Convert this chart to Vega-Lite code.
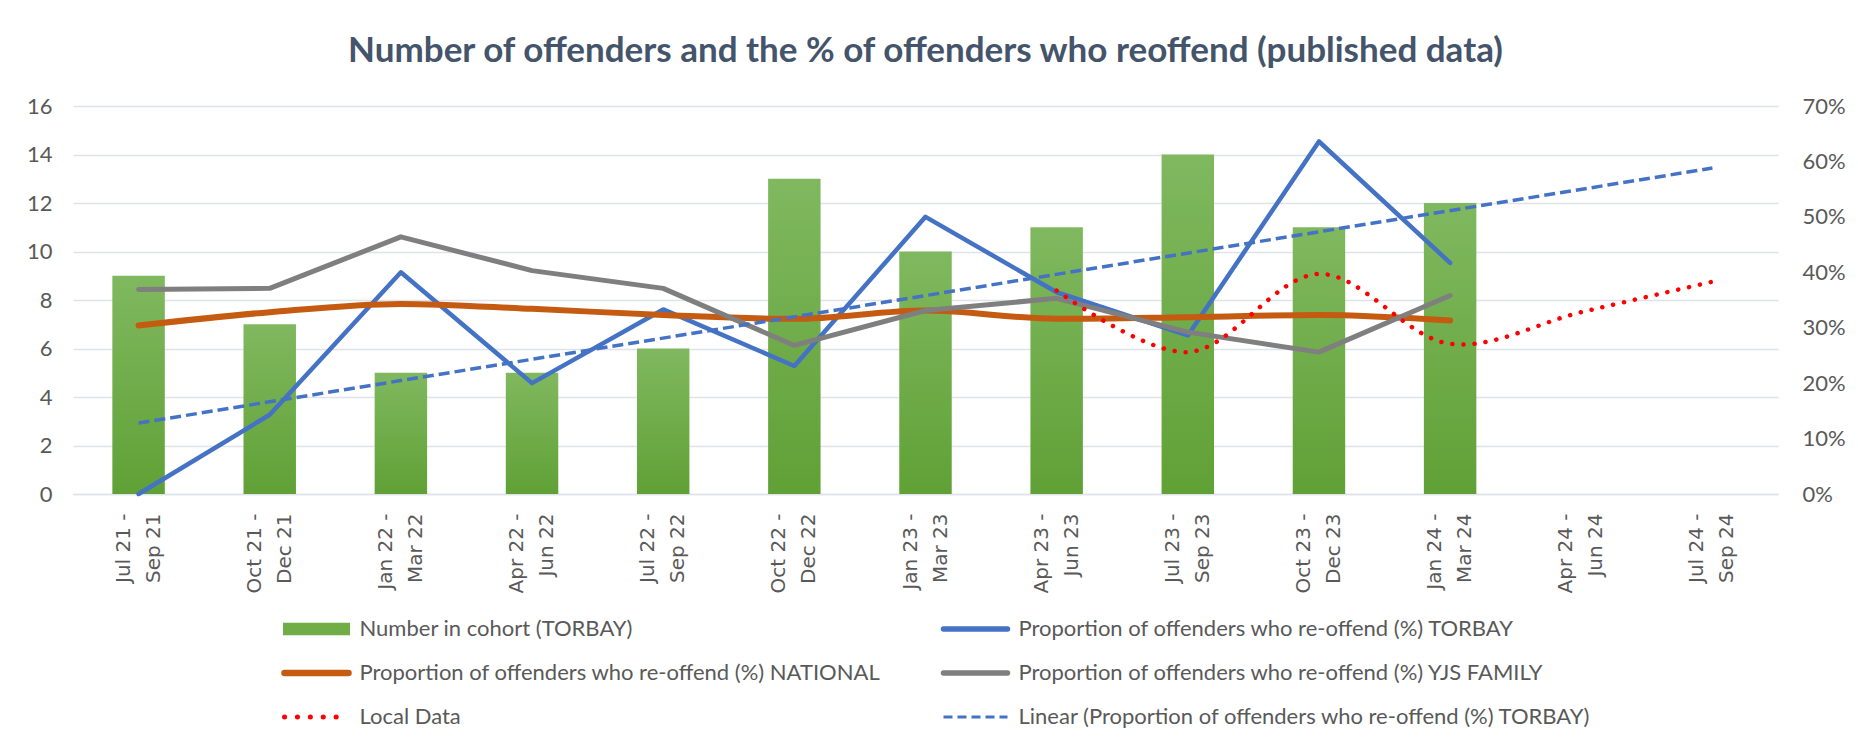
{
  "$schema": "https://vega.github.io/schema/vega-lite/v6.json",
  "width": 1705,
  "height": 388,
  "autosize": {"type": "none"},
  "padding": {"left": 73, "top": 106, "right": 80, "bottom": 254},
  "background": "white",
  "title": {
    "text": "Number of offenders and the % of offenders who reoffend (published data)",
    "font": "Lato",
    "fontSize": 35,
    "fontWeight": "bold",
    "color": "#44546A",
    "anchor": "middle",
    "offset": 26
  },
  "config": {
    "view": {"stroke": null},
    "axis": {"labelFont": "Lato", "labelColor": "#595959", "ticks": false, "domain": false, "title": null}
  },
  "datasets": {
    "cohort": [
      {"period": "Jul 21 - Sep 21", "count": 9},
      {"period": "Oct 21 - Dec 21", "count": 7},
      {"period": "Jan 22 - Mar 22", "count": 5},
      {"period": "Apr 22 - Jun 22", "count": 5},
      {"period": "Jul 22 - Sep 22", "count": 6},
      {"period": "Oct 22 - Dec 22", "count": 13},
      {"period": "Jan 23 - Mar 23", "count": 10},
      {"period": "Apr 23 - Jun 23", "count": 11},
      {"period": "Jul 23 - Sep 23", "count": 14},
      {"period": "Oct 23 - Dec 23", "count": 11},
      {"period": "Jan 24 - Mar 24", "count": 12}
    ],
    "torbay": [
      {"period": "Jul 21 - Sep 21", "series": "Proportion of offenders who re-offend (%) TORBAY", "value": 0.0},
      {"period": "Oct 21 - Dec 21", "series": "Proportion of offenders who re-offend (%) TORBAY", "value": 0.143},
      {"period": "Jan 22 - Mar 22", "series": "Proportion of offenders who re-offend (%) TORBAY", "value": 0.4},
      {"period": "Apr 22 - Jun 22", "series": "Proportion of offenders who re-offend (%) TORBAY", "value": 0.2},
      {"period": "Jul 22 - Sep 22", "series": "Proportion of offenders who re-offend (%) TORBAY", "value": 0.333},
      {"period": "Oct 22 - Dec 22", "series": "Proportion of offenders who re-offend (%) TORBAY", "value": 0.231},
      {"period": "Jan 23 - Mar 23", "series": "Proportion of offenders who re-offend (%) TORBAY", "value": 0.5},
      {"period": "Apr 23 - Jun 23", "series": "Proportion of offenders who re-offend (%) TORBAY", "value": 0.364},
      {"period": "Jul 23 - Sep 23", "series": "Proportion of offenders who re-offend (%) TORBAY", "value": 0.286},
      {"period": "Oct 23 - Dec 23", "series": "Proportion of offenders who re-offend (%) TORBAY", "value": 0.636},
      {"period": "Jan 24 - Mar 24", "series": "Proportion of offenders who re-offend (%) TORBAY", "value": 0.417}
    ],
    "national": [
      {"period": "Jul 21 - Sep 21", "series": "Proportion of offenders who re-offend (%) NATIONAL", "value": 0.304},
      {"period": "Oct 21 - Dec 21", "series": "Proportion of offenders who re-offend (%) NATIONAL", "value": 0.328},
      {"period": "Jan 22 - Mar 22", "series": "Proportion of offenders who re-offend (%) NATIONAL", "value": 0.343},
      {"period": "Apr 22 - Jun 22", "series": "Proportion of offenders who re-offend (%) NATIONAL", "value": 0.334},
      {"period": "Jul 22 - Sep 22", "series": "Proportion of offenders who re-offend (%) NATIONAL", "value": 0.323},
      {"period": "Oct 22 - Dec 22", "series": "Proportion of offenders who re-offend (%) NATIONAL", "value": 0.316},
      {"period": "Jan 23 - Mar 23", "series": "Proportion of offenders who re-offend (%) NATIONAL", "value": 0.331},
      {"period": "Apr 23 - Jun 23", "series": "Proportion of offenders who re-offend (%) NATIONAL", "value": 0.316},
      {"period": "Jul 23 - Sep 23", "series": "Proportion of offenders who re-offend (%) NATIONAL", "value": 0.319},
      {"period": "Oct 23 - Dec 23", "series": "Proportion of offenders who re-offend (%) NATIONAL", "value": 0.323},
      {"period": "Jan 24 - Mar 24", "series": "Proportion of offenders who re-offend (%) NATIONAL", "value": 0.313}
    ],
    "yjs": [
      {"period": "Jul 21 - Sep 21", "series": "Proportion of offenders who re-offend (%) YJS FAMILY", "value": 0.369},
      {"period": "Oct 21 - Dec 21", "series": "Proportion of offenders who re-offend (%) YJS FAMILY", "value": 0.371},
      {"period": "Jan 22 - Mar 22", "series": "Proportion of offenders who re-offend (%) YJS FAMILY", "value": 0.464},
      {"period": "Apr 22 - Jun 22", "series": "Proportion of offenders who re-offend (%) YJS FAMILY", "value": 0.403},
      {"period": "Jul 22 - Sep 22", "series": "Proportion of offenders who re-offend (%) YJS FAMILY", "value": 0.371},
      {"period": "Oct 22 - Dec 22", "series": "Proportion of offenders who re-offend (%) YJS FAMILY", "value": 0.268},
      {"period": "Jan 23 - Mar 23", "series": "Proportion of offenders who re-offend (%) YJS FAMILY", "value": 0.331},
      {"period": "Apr 23 - Jun 23", "series": "Proportion of offenders who re-offend (%) YJS FAMILY", "value": 0.353},
      {"period": "Jul 23 - Sep 23", "series": "Proportion of offenders who re-offend (%) YJS FAMILY", "value": 0.292},
      {"period": "Oct 23 - Dec 23", "series": "Proportion of offenders who re-offend (%) YJS FAMILY", "value": 0.256},
      {"period": "Jan 24 - Mar 24", "series": "Proportion of offenders who re-offend (%) YJS FAMILY", "value": 0.358}
    ],
    "local": [
      {"period": "Apr 23 - Jun 23", "series": "Local Data", "value": 0.367},
      {"period": "Jul 23 - Sep 23", "series": "Local Data", "value": 0.256},
      {"period": "Oct 23 - Dec 23", "series": "Local Data", "value": 0.397},
      {"period": "Jan 24 - Mar 24", "series": "Local Data", "value": 0.271},
      {"period": "Apr 24 - Jun 24", "series": "Local Data", "value": 0.328},
      {"period": "Jul 24 - Sep 24", "series": "Local Data", "value": 0.383}
    ],
    "trend": [
      {"period": "Jul 21 - Sep 21", "series": "Linear (Proportion of offenders who re-offend (%) TORBAY)", "value": 0.128},
      {"period": "Jul 24 - Sep 24", "series": "Linear (Proportion of offenders who re-offend (%) TORBAY)", "value": 0.588}
    ]
  },
  "encoding": {
    "x": {
      "field": "period",
      "type": "nominal",
      "sort": null,
      "scale": {
        "type": "band",
        "paddingInner": 0,
        "paddingOuter": 0,
        "domain": ["Jul 21 - Sep 21", "Oct 21 - Dec 21", "Jan 22 - Mar 22", "Apr 22 - Jun 22", "Jul 22 - Sep 22", "Oct 22 - Dec 22", "Jan 23 - Mar 23", "Apr 23 - Jun 23", "Jul 23 - Sep 23", "Oct 23 - Dec 23", "Jan 24 - Mar 24", "Apr 24 - Jun 24", "Jul 24 - Sep 24"]
      },
      "axis": {
        "labelAngle": -90,
        "labelFont": "DejaVu Sans",
        "labelFontSize": 20,
        "labelLineHeight": 30,
        "labelPadding": 19,
        "labelOffset": -15,
        "labelExpr": "[split(datum.value, ' - ')[0] + ' -', split(datum.value, ' - ')[1]]",
        "domain": true,
        "domainColor": "#DFE3E9",
        "domainWidth": 1.5,
        "grid": false
      }
    }
  },
  "layer": [
    {
      "data": {"name": "cohort"},
      "mark": {
        "type": "bar",
        "width": {"band": 0.4},
        "color": {"gradient": "linear", "x1": 0, "y1": 0, "x2": 0, "y2": 1, "stops": [{"offset": 0, "color": "#80B85F"}, {"offset": 1, "color": "#60A136"}]}
      },
      "encoding": {
        "y": {
          "field": "count",
          "type": "quantitative",
          "scale": {"domain": [0, 16], "nice": false, "zero": true},
          "axis": {
            "orient": "left",
            "values": [0, 2, 4, 6, 8, 10, 12, 14, 16],
            "labelFontSize": 22,
            "labelPadding": 21,
            "grid": true,
            "gridColor": "#DFE3E9",
            "gridWidth": 1.5
          }
        }
      }
    },
    {
      "encoding": {
        "y": {
          "field": "value",
          "type": "quantitative",
          "scale": {"domain": [0, 0.7], "nice": false, "zero": true},
          "axis": {
            "orient": "right",
            "values": [0, 0.1, 0.2, 0.3, 0.4, 0.5, 0.6, 0.7],
            "format": ".0%",
            "labelFontSize": 22,
            "labelPadding": 24,
            "grid": false
          }
        },
        "color": {
          "field": "series",
          "type": "nominal",
          "scale": {
            "domain": ["Number in cohort (TORBAY)", "Proportion of offenders who re-offend (%) TORBAY", "Proportion of offenders who re-offend (%) NATIONAL", "Proportion of offenders who re-offend (%) YJS FAMILY", "Local Data", "Linear (Proportion of offenders who re-offend (%) TORBAY)"],
            "range": ["#70AD47", "#4472C4", "#C55A11", "#7F7F7F", "#FF0000", "#4472C4"]
          },
          "legend": {
            "title": null,
            "orient": "none",
            "legendX": 209,
            "legendY": 512,
            "direction": "horizontal",
            "columns": 2,
            "columnPadding": 51,
            "rowPadding": 20,
            "padding": 0,
            "labelFont": "Lato",
            "labelFontSize": 22,
            "labelColor": "#595959",
            "labelLimit": 0,
            "labelOffset": 32,
            "symbolOffset": 23.5,
            "symbolSize": 400,
            "symbolStrokeWidth": 0,
            "encode": {
              "symbols": {
                "update": {
                  "shape": {"signal": "datum.value == 'Number in cohort (TORBAY)' ? 'M-3.35,-0.63H3.35V0.63H-3.35Z' : 'M-3.2,0H3.2'"},
                  "fill": {"signal": "datum.value == 'Number in cohort (TORBAY)' ? '#70AD47' : 'transparent'"},
                  "stroke": {"signal": "datum.value == 'Local Data' ? '#FF0000' : datum.value == 'Linear (Proportion of offenders who re-offend (%) TORBAY)' ? '#4472C4' : datum.value == 'Proportion of offenders who re-offend (%) NATIONAL' ? '#C55A11' : datum.value == 'Proportion of offenders who re-offend (%) YJS FAMILY' ? '#7F7F7F' : datum.value == 'Number in cohort (TORBAY)' ? 'transparent' : '#4472C4'"},
                  "strokeWidth": {"signal": "datum.value == 'Local Data' ? 5 : datum.value == 'Linear (Proportion of offenders who re-offend (%) TORBAY)' ? 3 : datum.value == 'Proportion of offenders who re-offend (%) NATIONAL' ? 6.5 : datum.value == 'Number in cohort (TORBAY)' ? 0 : 5.5"},
                  "strokeDash": {"signal": "datum.value == 'Local Data' ? [0.1, 12.8] : datum.value == 'Linear (Proportion of offenders who re-offend (%) TORBAY)' ? [9, 5] : [1, 0]"},
                  "strokeCap": {"signal": "datum.value == 'Linear (Proportion of offenders who re-offend (%) TORBAY)' ? 'butt' : 'round'"},
                  "opacity": {"value": 1}
                }
              }
            }
          }
        }
      },
      "layer": [
        {
          "data": {"name": "torbay"},
          "mark": {"type": "line", "strokeWidth": 4.5, "strokeJoin": "round", "strokeCap": "round"}
        },
        {
          "data": {"name": "national"},
          "mark": {"type": "line", "strokeWidth": 6, "interpolate": "monotone", "strokeCap": "round"}
        },
        {
          "data": {"name": "yjs"},
          "mark": {"type": "line", "strokeWidth": 5, "strokeJoin": "round", "strokeCap": "round"}
        },
        {
          "data": {"name": "local"},
          "mark": {"type": "line", "strokeWidth": 4.5, "interpolate": "catmull-rom", "strokeDash": [0.1, 11], "strokeCap": "round"}
        },
        {
          "data": {"name": "trend"},
          "mark": {"type": "line", "strokeWidth": 3.5, "strokeDash": [11, 5]}
        }
      ]
    }
  ],
  "resolve": {"scale": {"y": "independent"}}
}
